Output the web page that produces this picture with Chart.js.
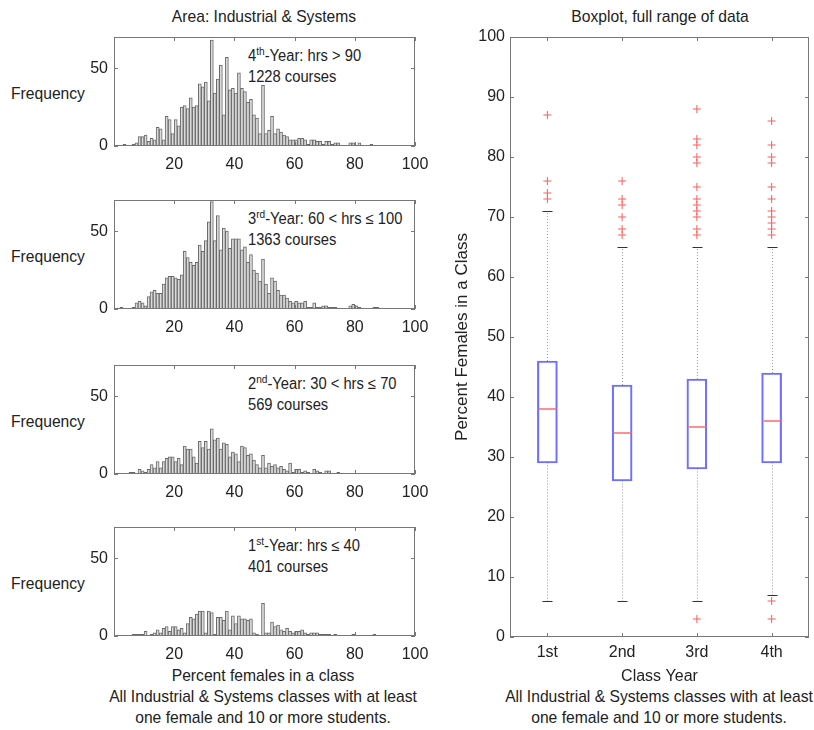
<!DOCTYPE html>
<html lang="en">
<head>
  <meta charset="UTF-8">
  <title>Percent females in Industrial & Systems classes</title>
  <script src="https://cdn.jsdelivr.net/npm/chart.js"></script>
  <style>
    * { margin: 0; padding: 0; box-sizing: border-box; }

    body {
      width: 814px;
      height: 730px;
      background: #fff;
      position: relative;
      overflow: hidden;
      font-family: "Liberation Sans", Arial, sans-serif;
      color: #222;
    }

    canvas { position: absolute; }

    /* the original uses a narrow helvetica, squeeze liberation a bit */
    .t {
      position: absolute;
      font-size: 17px;
      line-height: 1;
      white-space: nowrap;
      transform: translate(-50%, -50%) scaleX(0.92);
    }

    .note {
      position: absolute;
      font-size: 16px;
      line-height: 1;
      white-space: nowrap;
      transform-origin: left center;
      transform: translateY(-50%) scaleX(0.92);
    }

    .note sup { font-size: 11px; vertical-align: 6px; }
  </style>
</head>
<body>
  <div class="t" style="left:264px; top:16px">Area: Industrial &amp; Systems</div>
  <div class="t" style="left:660px; top:16px">Boxplot, full range of data</div>

  <div class="t" style="left:48px; top:93px">Frequency</div>
  <div class="t" style="left:48px; top:256px">Frequency</div>
  <div class="t" style="left:48px; top:421px">Frequency</div>
  <div class="t" style="left:48px; top:583px">Frequency</div>

  <div class="note" style="left:248px; top:55px">4<sup>th</sup>-Year: hrs &gt; 90</div>
  <div class="note" style="left:248px; top:77px">1228 courses</div>
  <div class="note" style="left:248px; top:218px">3<sup>rd</sup>-Year: 60 &lt; hrs ≤ 100</div>
  <div class="note" style="left:248px; top:240px">1363 courses</div>
  <div class="note" style="left:248px; top:383px">2<sup>nd</sup>-Year: 30 &lt; hrs ≤ 70</div>
  <div class="note" style="left:248px; top:405px">569 courses</div>
  <div class="note" style="left:248px; top:545px">1<sup>st</sup>-Year: hrs ≤ 40</div>
  <div class="note" style="left:248px; top:567px">401 courses</div>

  <div class="t" style="left:263px; top:675px">Percent females in a class</div>
  <div class="t" style="left:263px; top:696px">All Industrial &amp; Systems classes with at least</div>
  <div class="t" style="left:263px; top:717px">one female and 10 or more students.</div>
  <div class="t" style="left:659px; top:696px">All Industrial &amp; Systems classes with at least</div>
  <div class="t" style="left:659px; top:717px">one female and 10 or more students.</div>

  <canvas id="h4" width="430" height="151" style="left:0; top:27px"></canvas>
  <canvas id="h3" width="430" height="151" style="left:0; top:190px"></canvas>
  <canvas id="h2" width="430" height="151" style="left:0; top:355px"></canvas>
  <canvas id="h1" width="430" height="151" style="left:0; top:517px"></canvas>
  <canvas id="box" width="374" height="686" style="left:440px; top:0"></canvas>

  <script>
    // histogram bins: left edge of each 1% wide bin
    const binStart = [
      1, 2, 3, 4, 5, 6, 7, 8, 9, 10, 11, 12, 13, 14, 15, 16, 17, 18, 19, 20,
      21, 22, 23, 24, 25, 26, 27, 28, 29, 30, 31, 32, 33, 34, 35, 36, 37, 38, 39, 40,
      41, 42, 43, 44, 45, 46, 47, 48, 49, 50, 51, 52, 53, 54, 55, 56, 57, 58, 59, 60,
      61, 62, 63, 64, 65, 66, 67, 68, 69, 70, 71, 72, 73, 74, 75, 76, 77, 78, 79, 80,
      81, 82, 83, 84, 85, 86, 87, 88, 89, 90
    ];

    // counts per bin
    const fourthYear = [
      0, 0, 1, 0, 0, 1, 2, 6, 6, 7, 3, 5, 4, 12, 11, 4, 19, 17, 8, 17,
      13, 25, 26, 24, 31, 25, 26, 40, 38, 41, 29, 68, 34, 43, 52, 20, 57, 36, 37, 34,
      47, 37, 35, 28, 30, 20, 18, 8, 39, 8, 10, 19, 8, 11, 9, 7, 6, 4, 4, 4,
      5, 5, 4, 1, 4, 4, 3, 3, 1, 3, 3, 1, 2, 2, 0, 0, 0, 2, 2, 0,
      2, 0, 0, 0, 1, 0, 0, 0, 0, 0
    ];
    const thirdYear = [
      0, 1, 0, 0, 0, 1, 4, 5, 4, 2, 8, 11, 12, 10, 10, 16, 20, 21, 21, 20,
      19, 22, 37, 33, 30, 28, 30, 41, 37, 44, 56, 69, 44, 60, 38, 52, 50, 39, 45, 45,
      45, 38, 40, 30, 35, 25, 23, 18, 32, 16, 10, 20, 18, 12, 9, 9, 7, 5, 4, 5,
      4, 4, 5, 1, 1, 4, 1, 1, 2, 2, 1, 1, 1, 0, 0, 0, 0, 2, 3, 2,
      1, 0, 0, 0, 0, 1, 1, 0, 0, 0
    ];
    const secondYear = [
      0, 0, 0, 0, 1, 1, 0, 3, 2, 1, 3, 6, 4, 8, 4, 8, 10, 11, 11, 8,
      10, 6, 18, 16, 16, 11, 7, 21, 17, 21, 16, 29, 22, 23, 16, 20, 19, 11, 14, 13,
      8, 18, 17, 12, 13, 9, 6, 4, 12, 4, 7, 5, 6, 4, 5, 3, 2, 7, 1, 3,
      3, 1, 2, 1, 0, 3, 2, 1, 0, 2, 2, 0, 0, 1, 0, 0, 0, 0, 0, 0,
      0, 0, 0, 0, 0, 0, 0, 0, 0, 0
    ];
    const firstYear = [
      0, 0, 0, 0, 0, 1, 1, 1, 1, 3, 0, 1, 2, 4, 2, 5, 6, 3, 6, 6,
      4, 5, 2, 8, 12, 11, 14, 16, 16, 2, 16, 15, 1, 12, 12, 10, 16, 4, 13, 8,
      13, 11, 11, 10, 11, 2, 1, 0, 21, 2, 2, 9, 6, 7, 4, 3, 5, 3, 2, 3,
      3, 4, 2, 1, 2, 2, 2, 1, 1, 1, 1, 0, 1, 0, 0, 0, 0, 0, 1, 0,
      0, 0, 0, 0, 0, 1, 0, 0, 0, 0
    ];

    const histXTicks = [20, 40, 60, 80, 100];
    const histYTicks = [0, 50];

    // boxplot summary per class year
    const years = ['1st', '2nd', '3rd', '4th'];
    const whiskLow = [6, 6, 6, 7];
    const q1 = [29, 26, 28, 29];
    const median = [38, 34, 35, 36];
    const q3 = [46, 42, 43, 44];
    const whiskHigh = [71, 65, 65, 65];
    const outliers1st = [73, 74, 76, 87];
    const outliers2nd = [67, 68, 70, 72, 73, 76];
    const outliers3rd = [3, 67, 68, 70, 71, 72, 73, 75, 79, 80, 82, 83, 88];
    const outliers4th = [3, 6, 67, 68, 69, 70, 71, 73, 75, 79, 80, 82, 86];
    const boxYTicks = [0, 10, 20, 30, 40, 50, 60, 70, 80, 90, 100];

    Chart.defaults.font.family = '"Liberation Sans", Arial, sans-serif';
    Chart.defaults.font.size = 16;
    Chart.defaults.color = '#222';

    // matlab style box around the plot area with short inward ticks
    const framePlugin = {
      id: 'frame',
      afterDraw(chart) {
        const { ctx, chartArea: a, scales } = chart;
        const len = 4;
        ctx.save();
        ctx.strokeStyle = '#777';
        ctx.lineWidth = 1;
        ctx.strokeRect(a.left + 0.5, a.top + 0.5, a.right - a.left - 1, a.bottom - a.top - 1);
        ctx.beginPath();
        scales.x.ticks.forEach((t, i) => {
          const px = Math.round(scales.x.getPixelForTick(i)) + 0.5;
          ctx.moveTo(px, a.bottom); ctx.lineTo(px, a.bottom - len);
          ctx.moveTo(px, a.top); ctx.lineTo(px, a.top + len);
        });
        scales.y.ticks.forEach((t, i) => {
          const py = Math.round(scales.y.getPixelForTick(i)) + 0.5;
          ctx.moveTo(a.left, py); ctx.lineTo(a.left + len, py);
          ctx.moveTo(a.right, py); ctx.lineTo(a.right - len, py);
        });
        ctx.stroke();
        ctx.restore();
      }
    };

    function histogram(id, counts) {
      return new Chart(document.getElementById(id), {
        type: 'bar',
        data: {
          datasets: [{
            data: counts.map((c, i) => ({ x: binStart[i] + 0.5, y: c })),
            backgroundColor: '#dadada',
            borderColor: '#6a6a6a',
            borderWidth: 1,
            barPercentage: 1,
            categoryPercentage: 1
          }]
        },
        options: {
          responsive: false,
          animation: false,
          events: [],
          layout: { padding: { top: 10, right: 15, left: 0, bottom: 0 } },
          plugins: { legend: { display: false }, tooltip: { enabled: false } },
          scales: {
            x: {
              type: 'linear',
              offset: false,
              min: 0,
              max: 100,
              afterBuildTicks: s => { s.ticks = histXTicks.map(v => ({ value: v })); },
              afterFit: s => { s.height = 32; s.paddingLeft = 0; s.paddingRight = 0; },
              grid: { display: false, drawTicks: false },
              border: { display: false },
              ticks: { padding: 9, maxRotation: 0 }
            },
            y: {
              min: 0,
              max: 70,
              afterBuildTicks: s => { s.ticks = histYTicks.map(v => ({ value: v })); },
              afterFit: s => { s.width = 114; s.paddingTop = 0; s.paddingBottom = 0; },
              grid: { display: false, drawTicks: false },
              border: { display: false },
              ticks: { padding: 6 }
            }
          }
        },
        plugins: [framePlugin]
      });
    }

    histogram('h4', fourthYear);
    histogram('h3', thirdYear);
    histogram('h2', secondYear);
    histogram('h1', firstYear);

    // whiskers, caps and medians drawn on top of the boxes
    const boxPlugin = {
      id: 'boxparts',
      afterDatasetsDraw(chart) {
        const { ctx, scales: { x, y } } = chart;
        const seg = (x0, y0, x1, y1) => { ctx.beginPath(); ctx.moveTo(x0, y0); ctx.lineTo(x1, y1); ctx.stroke(); };
        ctx.save();
        years.forEach((yr, i) => {
          const cx = Math.round(x.getPixelForValue(i)) + 0.5;
          const yLo = Math.round(y.getPixelForValue(whiskLow[i])) + 0.5;
          const yHi = Math.round(y.getPixelForValue(whiskHigh[i])) + 0.5;
          ctx.lineWidth = 1;
          ctx.strokeStyle = '#999';
          ctx.setLineDash([1, 2]);
          seg(cx, y.getPixelForValue(q3[i]), cx, yHi);
          seg(cx, yLo, cx, y.getPixelForValue(q1[i]));
          ctx.setLineDash([]);
          ctx.strokeStyle = '#333';
          seg(cx - 5, yHi, cx + 5, yHi);
          seg(cx - 5, yLo, cx + 5, yLo);
          ctx.strokeStyle = '#ff6b6b';
          ctx.lineWidth = 1.5;
          const ym = Math.round(y.getPixelForValue(median[i]));
          seg(cx - 9, ym, cx + 9, ym);
        });
        ctx.restore();
      }
    };

    const outlierPoints = [outliers1st, outliers2nd, outliers3rd, outliers4th]
      .flatMap((vals, i) => vals.map(v => ({ x: years[i], y: v })));

    new Chart(document.getElementById('box'), {
      type: 'bar',
      data: {
        labels: years,
        datasets: [{
          type: 'bar',
          data: q1.map((v, i) => [v, q3[i]]),
          backgroundColor: 'rgba(0,0,0,0)',
          borderColor: '#6f6fff',
          borderWidth: 1.5,
          borderSkipped: false,
          barThickness: 20
        }, {
          type: 'line',
          data: outlierPoints,
          showLine: false,
          pointStyle: 'cross',
          pointRadius: 4,
          pointBorderWidth: 1,
          pointBorderColor: '#ff5a5a'
        }]
      },
      options: {
        responsive: false,
        animation: false,
        events: [],
        layout: { padding: { top: 37, right: 4, left: 0, bottom: 0 } },
        plugins: { legend: { display: false }, tooltip: { enabled: false } },
        scales: {
          x: {
            afterFit: s => { s.height = 49; },
            grid: { display: false, drawTicks: false },
            border: { display: false },
            ticks: { padding: 6 },
            title: { display: true, text: 'Class Year', padding: { top: 0, bottom: 0 } }
          },
          y: {
            min: 0,
            max: 100,
            afterBuildTicks: s => { s.ticks = boxYTicks.map(v => ({ value: v })); },
            afterFit: s => { s.width = 70; },
            grid: { display: false, drawTicks: false },
            border: { display: false },
            ticks: { padding: 5 },
            title: {
              display: true,
              text: 'Percent Females in a Class',
              font: { size: 17 },
              padding: { top: 12, bottom: 0 }
            }
          }
        }
      },
      plugins: [boxPlugin, framePlugin]
    });
  </script>
</body>
</html>
